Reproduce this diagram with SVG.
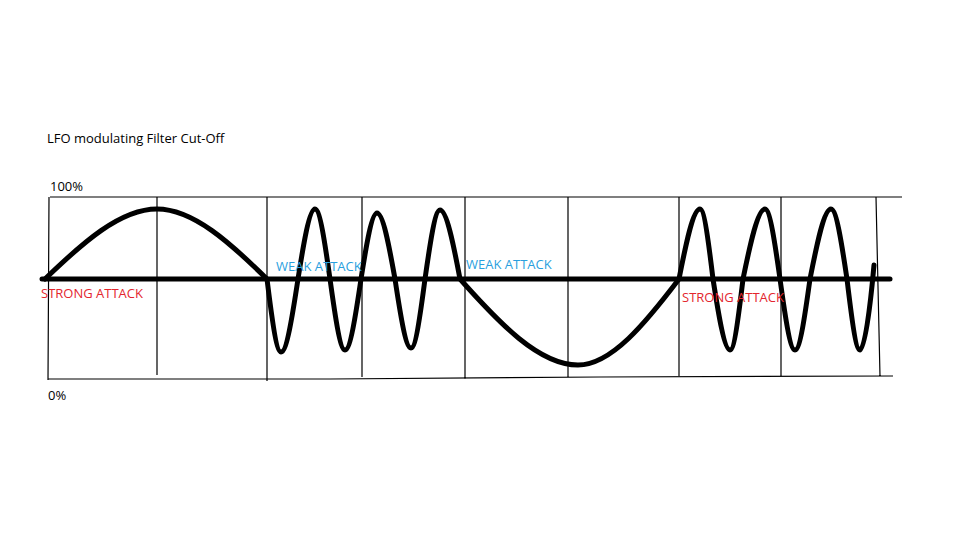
<svg xmlns="http://www.w3.org/2000/svg" width="960" height="540" viewBox="0 0 960 540">
<style>
.t{font-family:"Open Sans","Liberation Sans",sans-serif;font-size:13px}
.grid{stroke:#000;stroke-width:1.2;fill:none}
.wave{stroke:#000;stroke-width:5;fill:none;stroke-linecap:round;stroke-linejoin:round}
.strong{fill:#e3262e}
.weak{fill:#2a9fde}
</style>
<rect width="960" height="540" fill="#fff"/>
<text class="t" x="47" y="143">LFO modulating Filter Cut-Off</text>
<text class="t" x="50" y="191">100%</text>
<text class="t" x="48" y="400">0%</text>
<g id="grid">
<path class="grid" d="M50,197 H902 M48,379 L330,379 L600,377 L893,376 M49,197 L48,380 M157,197 V375 M267,197 V381 M362,197 V377 M465,197 V379 M568,197 V378 M679,197 V376 M781,197 V376 M876,197 L880,376"/>
</g>
<g id="axis">
<line x1="42" y1="279" x2="890" y2="279" stroke="#000" stroke-width="5" stroke-linecap="round"/>
</g>
<g id="lfo">
<path class="wave" d="M45,279 C82,243.3 120,209 157,209 C193.3,209 230.7,243.3 267,279
C271.6,316.2 276.4,352 281,352 C286.6,352 292.4,316.2 298,279
C303.6,243.3 309.4,209 315,209 C320,209 325,243.3 330,279
C335,315.2 340,350 345,350 C350.3,350 355.7,315.2 361,279
C366.3,245.3 371.7,213 377,213 C383,213 389,245.3 395,279
C400.3,314.2 405.7,348 411,348 C415.6,348 420.4,314.2 425,279
C430,243.8 435,210 440,210 C446.6,210 453.4,243.8 460,279
C499,322.9 539,365 578,365 C611.3,365 645.7,322.9 679,279
C686,243.3 693,209 700,209 C704.3,209 708.7,243.3 713,279
C718.6,315.2 724.4,350 730,350 C734.3,350 738.7,315.2 743,279
C750.3,243.3 757.7,209 765,209 C770,209 775,243.3 780,279
C785,315.2 790,350 795,350 C800,350 805,315.2 810,279
C817,243.3 824,209 831,209 C836.3,209 841.7,243.3 847,279
C851.3,315.2 855.7,350 860,350 C864.6,350 870,310 874,265"/>
</g>
<g id="label-strong-1"><text class="t strong" x="41" y="298">STRONG ATTACK</text></g>
<g id="label-weak-1"><text class="t weak" x="276" y="271">WEAK ATTACK</text></g>
<g id="label-weak-2"><text class="t weak" x="466" y="269">WEAK ATTACK</text></g>
<g id="label-strong-2"><text class="t strong" x="682" y="302">STRONG ATTACK</text></g>
</svg>
